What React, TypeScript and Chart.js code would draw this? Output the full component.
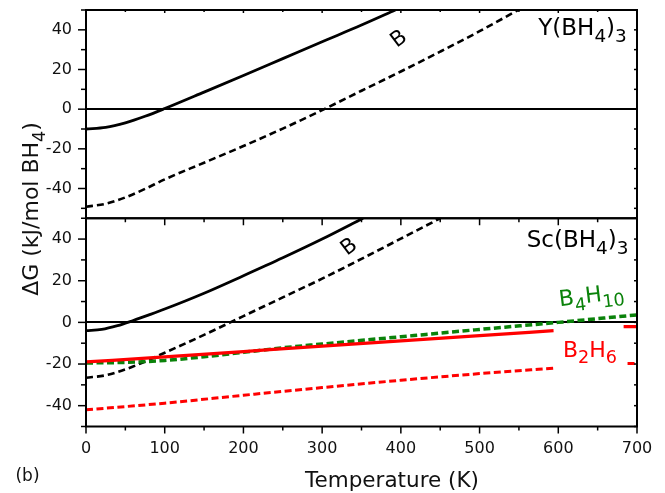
import React, { useEffect, useRef } from 'react';
import { Chart, registerables } from 'chart.js';

Chart.register(...registerables);

// ---------- tick labels ----------
const xTickLabels = [0, 100, 200, 300, 400, 500, 600, 700];
const xMinorTicks = [50, 150, 250, 350, 450, 550, 650];
const yTickLabels = [-40, -20, 0, 20, 40];
const yMinorTicks = [-50, -30, -10, 10, 30, 50];

// ---------- top panel: Y(BH4)3 ----------
const ySolidT = [0, 25, 50, 75, 100, 150, 200, 250, 300, 350, 393];
const ySolidG = [-10, -9.2, -6.9, -3.6, 0.3, 8.6, 17, 25.5, 34, 42.4, 50];
const yDashT = [0, 25, 50, 75, 100, 150, 200, 250, 300, 350, 400, 450, 500, 549];
const yDashG = [-49.2, -47.7, -44.5, -40.2, -35.4, -27, -18.6, -9.8, -0.5, 9.3, 19, 29, 39.3, 50];

// ---------- bottom panel: Sc(BH4)3 ----------
const scSolidT = [0, 20, 40, 60, 80, 100, 150, 200, 250, 300, 352];
const scSolidG = [-4, -3.4, -1.6, 0.9, 3.6, 6.4, 14, 22.4, 31, 40, 50];
const scDashT = [0, 25, 50, 75, 100, 150, 200, 250, 300, 350, 400, 450];
const scDashG = [-26.6, -25.4, -22.6, -18.8, -14.6, -6, 3, 12, 21, 30.5, 40.2, 50];
const b2h6SolidT = [0, 100, 200, 300, 400, 500, 594];
const b2h6SolidG = [-19, -16.6, -14, -11.4, -8.9, -6.4, -4];
const b2h6SolidEndT = [683, 700];
const b2h6SolidEndG = [-2, -2];
const b2h6DashT = [0, 100, 200, 300, 400, 500, 594];
const b2h6DashG = [-42, -38.8, -35, -31.3, -27.8, -24.6, -22];
const b2h6DashEndT = [688, 700];
const b2h6DashEndG = [-19.8, -19.8];
const b4h10DashT = [0, 50, 100, 150, 200, 250, 300, 400, 500, 600, 700];
const b4h10DashG = [-19.5, -19.2, -18.3, -16.5, -14.4, -12.2, -10.4, -6.9, -3.4, 0, 3.6];

const FONT = "'DejaVu Sans', 'Liberation Sans', sans-serif";
const RED = '#ff0000';
const GREEN = '#0a820a';
const BLACK = '#000000';

type Part = { t: string; sub?: boolean };

function drawRich(
  ctx: CanvasRenderingContext2D,
  parts: Part[],
  x: number,
  y: number,
  size: number,
  align: 'left' | 'center' | 'right',
  color: string,
  rot = 0
) {
  const subSize = size * 0.8;
  const subDrop = size * 0.3;
  let w = 0;
  const widths = parts.map((p) => {
    ctx.font = `${p.sub ? subSize : size}px ${FONT}`;
    const m = ctx.measureText(p.t).width;
    w += m;
    return m;
  });
  ctx.save();
  ctx.translate(x, y);
  ctx.rotate(rot);
  ctx.fillStyle = color;
  ctx.textAlign = 'left';
  ctx.textBaseline = 'alphabetic';
  let cx = align === 'right' ? -w : align === 'center' ? -w / 2 : 0;
  parts.forEach((p, i) => {
    ctx.font = `${p.sub ? subSize : size}px ${FONT}`;
    ctx.fillText(p.t, cx, p.sub ? subDrop : 0);
    cx += widths[i];
  });
  ctx.restore();
}

// annotations in data coordinates
const annotations = [
  { panel: 'yTop', x: 687, y: 37.3, parts: [{ t: 'Y(BH' }, { t: '4', sub: true }, { t: ')' }, { t: '3', sub: true }], size: 23, align: 'right', color: BLACK, rot: 0 },
  { panel: 'yBot', x: 689, y: 36.2, parts: [{ t: 'Sc(BH' }, { t: '4', sub: true }, { t: ')' }, { t: '3', sub: true }], size: 23, align: 'right', color: BLACK, rot: 0 },
  { panel: 'yTop', x: 402, y: 33, parts: [{ t: 'B' }], size: 21, align: 'center', color: BLACK, rot: -0.65 },
  { panel: 'yBot', x: 339, y: 34, parts: [{ t: 'B' }], size: 21, align: 'center', color: BLACK, rot: -0.65 },
  { panel: 'yBot', x: 602, y: 7.8, parts: [{ t: 'B' }, { t: '4', sub: true }, { t: 'H' }, { t: '10', sub: true }], size: 22, align: 'left', color: GREEN, rot: -0.12 },
  { panel: 'yBot', x: 606, y: -16.5, parts: [{ t: 'B' }, { t: '2', sub: true }, { t: 'H' }, { t: '6', sub: true }], size: 22, align: 'left', color: RED, rot: 0 },
];

const framePlugin = {
  id: 'framePlugin',
  beforeDatasetsDraw(chart: any) {
    const { ctx, chartArea } = chart;
    ctx.save();
    ctx.strokeStyle = BLACK;
    ctx.lineWidth = 2;
    for (const id of ['yTop', 'yBot']) {
      const s = chart.scales[id];
      const p = Math.round(s.getPixelForValue(0));
      ctx.beginPath();
      ctx.moveTo(chartArea.left, p);
      ctx.lineTo(chartArea.right, p);
      ctx.stroke();
    }
    ctx.restore();
  },
  afterDatasetsDraw(chart: any) {
    const { ctx, chartArea } = chart;
    const { left, right } = chartArea;
    const xs = chart.scales.x;
    const yT = chart.scales.yTop;
    const yB = chart.scales.yBot;
    ctx.save();
    ctx.strokeStyle = BLACK;
    ctx.lineWidth = 2;
    for (const s of [yT, yB]) {
      ctx.strokeRect(left, s.top, right - left, s.bottom - s.top);
    }
    ctx.lineWidth = 1.5;
    const line = (x1: number, y1: number, x2: number, y2: number) => {
      ctx.beginPath();
      ctx.moveTo(x1, y1);
      ctx.lineTo(x2, y2);
      ctx.stroke();
    };
    for (const s of [yT, yB]) {
      for (const v of yTickLabels) {
        const p = s.getPixelForValue(v);
        line(left - 8, p, left, p);
        line(right - 3, p, right, p);
      }
      for (const v of yMinorTicks) {
        if (v < s.min || v > s.max) continue;
        const p = s.getPixelForValue(v);
        line(left - 5, p, left, p);
        line(right - 3, p, right, p);
      }
    }
    for (const v of xTickLabels) {
      const p = xs.getPixelForValue(v);
      line(p, yB.bottom, p, yB.bottom + 7);
      line(p, yB.top, p, yB.top + 7);
      line(p, yT.top, p, yT.top + 3);
    }
    for (const v of xMinorTicks) {
      const p = xs.getPixelForValue(v);
      line(p, yB.bottom, p, yB.bottom + 4);
      line(p, yB.top, p, yB.top + 4);
      line(p, yT.top, p, yT.top + 2);
    }
    ctx.restore();

    for (const a of annotations) {
      const s = chart.scales[a.panel];
      drawRich(ctx, a.parts as Part[], xs.getPixelForValue(a.x), s.getPixelForValue(a.y), a.size, a.align as any, a.color, a.rot);
    }

    drawRich(ctx, [{ t: 'Temperature (K)' }], 392, 487, 21.5, 'center', '#111');
    drawRich(ctx, [{ t: '(b)' }], 27.5, 481, 17, 'center', '#111');
    drawRich(ctx, [{ t: '\u0394G (kJ/mol BH' }, { t: '4', sub: true }, { t: ')' }], 38, 209, 22, 'center', '#111', -Math.PI / 2);
  },
};

function mk(T: number[], G: number[]) {
  return T.map((t, i) => ({ x: t, y: G[i] }));
}

const zeroPad = (s: any) => {
  s.paddingTop = 0;
  s.paddingBottom = 0;
  s.paddingLeft = 0;
  s.paddingRight = 0;
};

export default function App() {
  const ref = useRef<HTMLCanvasElement | null>(null);
  useEffect(() => {
    if (!ref.current) return;
    const base = { pointRadius: 0, fill: false, cubicInterpolationMode: 'monotone' as const };
    const chart = new Chart(ref.current, {
      type: 'line',
      data: {
        datasets: [
          { ...base, data: mk(ySolidT, ySolidG), yAxisID: 'yTop', borderColor: BLACK, borderWidth: 2.8 },
          { ...base, data: mk(yDashT, yDashG), yAxisID: 'yTop', borderColor: BLACK, borderWidth: 2.6, borderDash: [7, 4] },
          { ...base, data: mk(b2h6DashT, b2h6DashG), yAxisID: 'yBot', borderColor: RED, borderWidth: 3, borderDash: [7, 3.5] },
          { ...base, data: mk(b2h6DashEndT, b2h6DashEndG), yAxisID: 'yBot', borderColor: RED, borderWidth: 3, borderDash: [7, 3.5] },
          { ...base, data: mk(b2h6SolidT, b2h6SolidG), yAxisID: 'yBot', borderColor: RED, borderWidth: 3.2 },
          { ...base, data: mk(b2h6SolidEndT, b2h6SolidEndG), yAxisID: 'yBot', borderColor: RED, borderWidth: 3.2 },
          { ...base, data: mk(b4h10DashT, b4h10DashG), yAxisID: 'yBot', borderColor: GREEN, borderWidth: 3.5, borderDash: [7, 3.5] },
          { ...base, data: mk(scSolidT, scSolidG), yAxisID: 'yBot', borderColor: BLACK, borderWidth: 2.8 },
          { ...base, data: mk(scDashT, scDashG), yAxisID: 'yBot', borderColor: BLACK, borderWidth: 2.6, borderDash: [7, 4] },
        ],
      },
      options: {
        animation: false,
        responsive: false,
        maintainAspectRatio: false,
        devicePixelRatio: 1,
        layout: { padding: { left: 0, right: 28, top: 10, bottom: 0 } },
        plugins: { legend: { display: false }, tooltip: { enabled: false } },
        scales: {
          x: {
            type: 'linear',
            min: 0,
            max: 700,
            grid: { display: false, drawTicks: false },
            border: { display: false },
            afterBuildTicks: (s: any) => { s.ticks = xTickLabels.map((v) => ({ value: v })); },
            afterFit: (s: any) => { s.height = 66.5; zeroPad(s); },
            ticks: { padding: 13, color: '#111', font: { family: FONT, size: 16 }, maxRotation: 0, callback: (v: any) => String(v) },
          },
          yBot: {
            type: 'linear',
            position: 'left',
            stack: 'panels',
            stackWeight: 1,
            weight: 0,
            min: -50,
            max: 50,
            grid: { display: false, drawTicks: false },
            border: { display: false },
            afterBuildTicks: (s: any) => { s.ticks = yTickLabels.map((v) => ({ value: v })); },
            afterFit: (s: any) => { s.width = 86; zeroPad(s); },
            ticks: { padding: 14, color: '#111', font: { family: FONT, size: 16 }, callback: (v: any) => String(v) },
          },
          yTop: {
            type: 'linear',
            position: 'left',
            stack: 'panels',
            stackWeight: 1,
            weight: 1,
            min: -55,
            max: 50,
            grid: { display: false, drawTicks: false },
            border: { display: false },
            afterBuildTicks: (s: any) => { s.ticks = yTickLabels.map((v) => ({ value: v })); },
            afterFit: (s: any) => { s.width = 86; zeroPad(s); },
            ticks: { padding: 14, color: '#111', font: { family: FONT, size: 16 }, callback: (v: any) => String(v) },
          },
        },
      } as any,
      plugins: [framePlugin],
    });
    return () => chart.destroy();
  }, []);
  return (
    <div style={{ position: 'absolute', left: 0, top: 0, width: 665, height: 493, background: '#fff' }}>
      <canvas ref={ref} width={665} height={493} style={{ display: 'block' }} />
    </div>
  );
}
